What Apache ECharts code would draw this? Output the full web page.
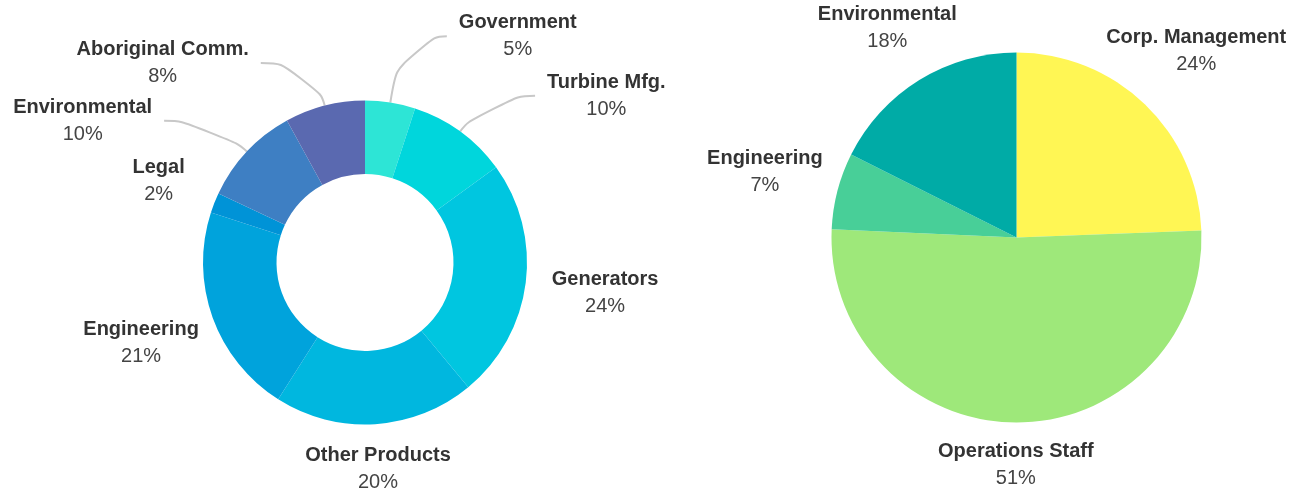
<!DOCTYPE html>
<html>
<head>
<meta charset="utf-8">
<script src="https://cdn.jsdelivr.net/npm/echarts@6/dist/echarts.min.js"></script>
<style>
    html, body { margin: 0; padding: 0; background: #fff; }
    #chart { width: 1293px; height: 493px; }
</style>
</head>
<body>
<div id="chart"></div>
<script>
// left donut: business lines
var deptNames = ['Government', 'Turbine Mfg.', 'Generators', 'Other Products', 'Engineering', 'Legal', 'Environmental', 'Aboriginal Comm.'];
var deptValues = [5, 10, 24, 20, 21, 2, 10, 8];

// right pie: staff groups
var staffNames = ['Corp. Management', 'Operations Staff', 'Engineering', 'Environmental'];
var staffValues = [24.4, 51.3, 6.7, 17.6];

// palettes
var deptColors = ['#2de5d6', '#00d6dc', '#00c6e0', '#00b7df', '#00a3dc', '#0093d7', '#3e7fc3', '#5a69b0'];
var staffColors = ['#fff654', '#9ee87a', '#48cf98', '#00aba6'];

// geometry
var donut = { cx: 365, cy: 262.5, r0: 88.5, r: 162 };
var pie = { cx: 1016.5, cy: 237.5, r: 185 };

// labels with a leader line: [radial length, horizontal length]
var leaderLines = {
    'Government': [67, 46],
    'Turbine Mfg.': [44, 49],
    'Environmental': [45, 50],
    'Aboriginal Comm.': [44, 53]
};
// labels without a line: distance of the label centre outside the rim
var donutGap = { 'Generators': 80, 'Other Products': 45, 'Engineering': 76, 'Legal': 60 };
var pieGap = [74, 42, 75, 61];

function midAngle(values, i) {
    var total = 0, before = 0;
    for (var k = 0; k < values.length; k++) {
        total += values[k];
        if (k < i) before += values[k];
    }
    return (before + values[i] / 2) / total * Math.PI * 2;
}

function radialLabel(geo, values, i, gap) {
    var a = midAngle(values, i);
    var d = geo.r + gap;
    return {
        x: geo.cx + d * Math.sin(a),
        y: geo.cy - d * Math.cos(a),
        align: 'center',
        verticalAlign: 'middle'
    };
}

var labelBase = {
    show: true,
    position: 'outside',
    distanceToLabelLine: 12,
    formatter: function (p) {
        return '{name|' + p.name + '}\n{pct|' + Math.round(p.percent) + '%}';
    },
    rich: {
        name: {
            fontFamily: 'Liberation Sans, Arial, sans-serif',
            fontWeight: 'bold',
            fontSize: 20,
            lineHeight: 27,
            color: '#333',
            align: 'center'
        },
        pct: {
            fontFamily: 'Liberation Sans, Arial, sans-serif',
            fontSize: 20,
            lineHeight: 27,
            color: '#444',
            align: 'center'
        }
    }
};

var deptData = deptNames.map(function (n, i) {
    var item = { name: n, value: deptValues[i], itemStyle: { color: deptColors[i] } };
    if (leaderLines[n]) {
        item.labelLine = { length: leaderLines[n][0], length2: leaderLines[n][1] };
    } else {
        item.labelLine = { show: false };
    }
    return item;
});

var staffData = staffNames.map(function (n, i) {
    return { name: n, value: staffValues[i], itemStyle: { color: staffColors[i] } };
});

var chart = echarts.init(document.getElementById('chart'));
chart.setOption({
    animation: false,
    series: [{
        type: 'pie',
        center: [donut.cx, donut.cy],
        radius: [donut.r0, donut.r],
        startAngle: 90,
        clockwise: true,
        avoidLabelOverlap: false,
        label: labelBase,
        labelLine: {
            smooth: 0.75,
            lineStyle: { color: '#c8c8c8', width: 2 }
        },
        labelLayout: function (p) {
            var gap = donutGap[deptNames[p.dataIndex]];
            if (gap == null) return {};
            return radialLabel(donut, deptValues, p.dataIndex, gap);
        },
        emphasis: { disabled: true },
        data: deptData
    }, {
        type: 'pie',
        center: [pie.cx, pie.cy],
        radius: pie.r,
        startAngle: 90,
        clockwise: true,
        avoidLabelOverlap: false,
        label: labelBase,
        labelLine: { show: false },
        labelLayout: function (p) {
            return radialLabel(pie, staffValues, p.dataIndex, pieGap[p.dataIndex]);
        },
        emphasis: { disabled: true },
        data: staffData
    }]
});
</script>
</body>
</html>
